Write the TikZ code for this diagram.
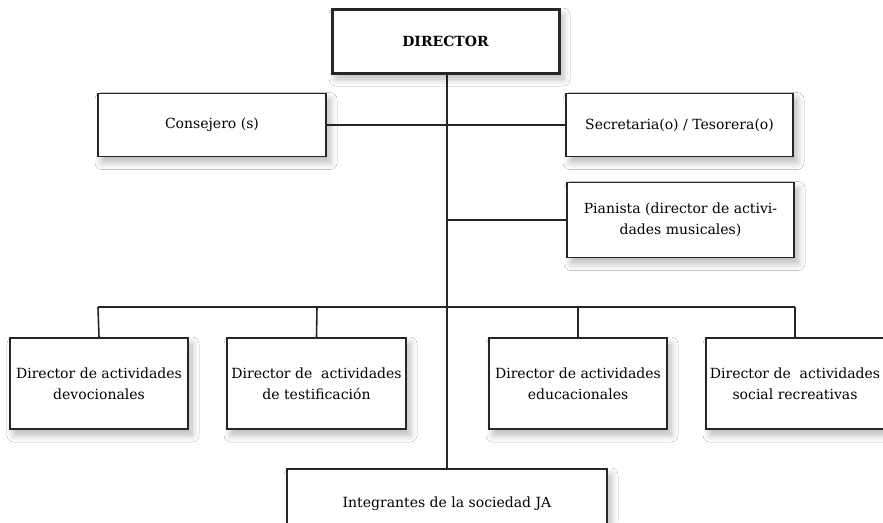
\documentclass[tikz,border=0pt]{standalone}
\usepackage{fontspec}
\setmainfont{DejaVu Serif}
\usetikzlibrary{shadows.blur}
\tikzset{
  box/.style={draw=black!85, line width=1.5pt, fill=white, align=center, inner sep=2pt,
    blur shadow={shadow blur steps=8, shadow xshift=4pt, shadow yshift=-6pt, shadow opacity=28, shadow blur radius=7pt},
    font=\fontsize{14}{21}\selectfont},
  topbox/.style={box, line width=3pt, font=\fontsize{14}{17}\selectfont\bfseries},
  conn/.style={draw=black!85, line width=1.6pt}
}
\begin{document}
\begin{tikzpicture}[x=1pt,y=-1pt]
\useasboundingbox (0,0) rectangle (883,522);
\clip (0,0) rectangle (883,522);
\fill[white] (0,0) rectangle (883,522);
% connector junctions
\coordinate (top) at (447,73);
\coordinate (bot) at (447,469);
\coordinate (j1) at (98,307);
\coordinate (j2) at (317,307);
\coordinate (j3) at (578,307);
\coordinate (j4) at (795,307);
\coordinate (jp) at (447,220);
\draw[conn] (top) -- (bot);
\draw[conn] (j1) -- (j4);

\node[topbox, minimum width=227pt, minimum height=64pt] (dir) at (445.5,41) {DIRECTOR};
\node[box, minimum width=228pt, minimum height=63pt] (cons) at (212,125) {Consejero (s)};
\node[box, minimum width=227pt, minimum height=63pt] (sec) at (679.5,125) {Secretaria(o) / Tesorera(o)};
\node[box, minimum width=227pt, minimum height=75pt] (pian) at (680.5,220) {Pianista (director de activi-\\dades musicales)};
\node[box, minimum width=178pt, minimum height=91pt] (b1) at (99,383.5) {Director de actividades\\devocionales};
\node[box, minimum width=179pt, minimum height=91pt] (b2) at (316.5,383.5) {Director de~ actividades\\de testificación};
\node[box, minimum width=178pt, minimum height=91pt] (b3) at (578,383.5) {Director de actividades\\educacionales};
\node[box, minimum width=178pt, minimum height=91pt] (b4) at (795,383.5) {Director de~ actividades\\social recreativas};
\node[box, minimum width=320pt, minimum height=70pt] (integ) at (447,504) {Integrantes de la sociedad JA};

\draw[conn] (cons.east) -- (sec.west);
\draw[conn] (jp) -- (pian.west);
\draw[conn] (j1) -- (b1.north);
\draw[conn] (j2) -- (b2.north);
\draw[conn] (j3) -- (b3.north);
\draw[conn] (j4) -- (b4.north);
\end{tikzpicture}
\end{document}
